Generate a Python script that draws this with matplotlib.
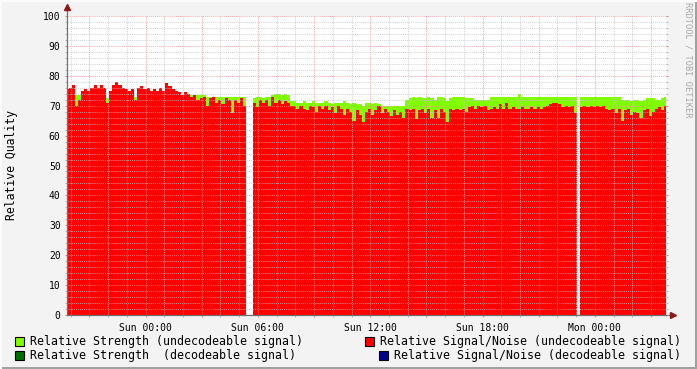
import datetime as dt
import numpy as np
import matplotlib
matplotlib.use("Agg")
import matplotlib.pyplot as plt
import matplotlib.dates as mdates
from matplotlib.ticker import MultipleLocator, FuncFormatter
from matplotlib.patches import Rectangle

nan = np.nan

# 10 minute samples, first one at Sat 19:48
t_start = dt.datetime(2024, 1, 6, 19, 48)
t_end = t_start + dt.timedelta(hours=32)
step_min = 10

# Relative Strength (undecodeable signal) - green area
strength = [
    74, 74, 74, 73.5, 73.5, 74, 74, 74, 74, 74,
    74, 74, 74, 72.5, 74, 74, 74, 74, 74, 74,
    74, 74, 73, 74, 74, 74, 74, 74, 74, 74,
    74, 74, 74, 74, 74, 74, 73.5, 73.5, 73.5, 73.5,
    73.5, 73.5, 73.5, 73.5, 73.5, 73, 73, 73, 73, 73,
    73, 73, 73, 73, 73, 73, 73, 73,
    nan, nan,
    72.5, 73, 73, 72.5, 73, 73, 73.5, 74, 74, 73.5,
    74, 73.5, 71.5, 71.5, 71, 71, 71.5, 71, 71, 71.5,
    71, 71, 71, 71.5, 71, 70.5, 71, 71, 71, 71.5,
    71, 70.5, 71, 70.5, 70.5, 70, 71, 71, 70.5, 71,
    70.5, 70, 70, 70, 70, 70, 70, 70, 70, 72,
    72.5, 73, 72.5, 73, 72.5, 72.5, 73, 72.5, 72, 73,
    73, 72.5, 71.5, 72.5, 73, 73, 73, 73, 72.5, 72.5,
    72.5, 72, 72, 72, 72, 72, 73, 73, 73, 73,
    73, 73, 73, 73, 73, 74, 73, 73, 73, 73,
    73, 73, 73, 73, 73, 73, 73, 73, 73, 73,
    73, 73, 73, 73,
    nan,
    73, 73, 73, 73, 73,
    73, 73, 73, 73, 73, 73, 73, 73, 72, 72,
    72, 71.5, 72, 72, 71.5, 72, 72.5, 72.5, 72.5, 72,
    72, 72.5, 73,
]

# Relative Signal/Noise (undecodeable signal) - red area
snr = [
    75.5, 76, 77, 70, 72, 75, 75.5, 75, 76, 77,
    76, 77, 76, 71, 75, 77, 78, 77, 76, 75.5,
    75, 75.5, 72, 76, 76.5, 75.5, 76, 75, 75.5, 75,
    76, 75, 77.5, 76.5, 75.5, 75, 74.5, 73.5, 74.5, 74,
    73, 73.5, 72, 72.5, 73, 70, 72.5, 73, 71, 72,
    70.5, 72.5, 72, 67.5, 72, 71, 72.5, 70,
    nan, nan,
    71, 69.5, 72, 71, 72, 70, 73, 71, 72, 70.5,
    71.5, 71, 70, 70, 69, 70, 69, 68.5, 70, 69.5,
    68, 70, 69, 70, 68.5, 69.5, 67.5, 70, 69, 67,
    69, 68, 65, 68.5, 67, 64.5, 68, 69, 67, 68.5,
    70, 67.5, 69, 68, 66.5, 68.5, 67, 68, 66, 69,
    68.5, 69, 65.5, 68.5, 69, 67.5, 69, 66, 68.5, 66,
    69, 68, 64.5, 69, 68.5, 69, 68.5, 69, 68, 69.5,
    70, 69, 70, 69.5, 70, 68.5, 69, 69.5, 69, 70.5,
    69, 71, 69, 69.5, 69, 69, 69.5, 69, 69, 69.5,
    69, 69.5, 69, 69.5, 70, 70.5, 71, 71, 70.5, 69.5,
    70, 69.5, 70, 67.5,
    nan,
    69.5, 70, 69.5, 70, 69.5,
    70, 69.5, 70, 69, 68.5, 69, 67.5, 69, 65, 68.5,
    69, 67, 68, 67.5, 66, 68.5, 69, 66.5, 68, 69,
    69.5, 68.5, 70,
]

legend_labels = [
    "Relative Strength (undecodeable signal)",
    "Relative Strength  (decodeable signal)",
    "Relative Signal/Noise (undecodeable signal)",
    "Relative Signal/Noise (decodeable signal)",
]
legend_colors = ["#80FF00", "#007000", "#FF0000", "#000090"]

times = [t_start + dt.timedelta(minutes=step_min * i) for i in range(len(snr))]
tnum = mdates.date2num(times)
width = step_min / 1440.0

W, H = 697, 369
fig = plt.figure(figsize=(W / 100, H / 100), dpi=100)
fig.patch.set_facecolor("#F3F3F3")

ax = fig.add_axes([67 / W, 54 / H, 599 / W, 299 / H])
ax.set_facecolor("white")

ax.bar(tnum, strength, width=width, color=legend_colors[0], linewidth=0,
       antialiased=False, zorder=1)
ax.bar(tnum, snr, width=width, color=legend_colors[2], linewidth=0,
       antialiased=False, zorder=1.1)

ax.set_xlim(mdates.date2num(t_start), mdates.date2num(t_end))
ax.set_ylim(0, 100)
ax.set_axisbelow(False)

# grid
ax.yaxis.set_major_locator(MultipleLocator(10))
ax.yaxis.set_minor_locator(MultipleLocator(2))
ax.xaxis.set_major_locator(mdates.HourLocator(byhour=range(0, 24, 3)))
ax.xaxis.set_minor_locator(mdates.HourLocator())


def fmt_time(x, pos):
    d = mdates.num2date(x)
    if d.hour % 6 == 0 and d.minute == 0:
        return d.strftime("%a %H:%M")
    return ""


ax.xaxis.set_major_formatter(FuncFormatter(fmt_time))

ax.grid(which="minor", color="#C4C4C4", linestyle=(0, (1, 1)), linewidth=0.75, alpha=0.7)
ax.grid(which="major", color="#F09090", linestyle=(0, (1, 1)), linewidth=0.75, alpha=0.7)

mono = "DejaVu Sans Mono"
ax.tick_params(axis="both", which="both", direction="out", length=1.6, width=0.7)
ax.tick_params(axis="both", which="minor", color="#B8B8B8")
ax.tick_params(axis="both", which="major", color="#E08080")
ax.tick_params(axis="y", which="both", right=True)
ax.tick_params(axis="x", which="major", labelsize=7, pad=4)
ax.tick_params(axis="y", which="major", labelsize=7, pad=3)
for lab in ax.get_xticklabels() + ax.get_yticklabels():
    lab.set_family(mono)

for s in ["top", "right"]:
    ax.spines[s].set_visible(False)
for s in ["left", "bottom"]:
    ax.spines[s].set_color("#707070")
    ax.spines[s].set_linewidth(0.9)
    ax.spines[s].set_zorder(5)

# axis arrows
ax.plot([0, 0], [1, 1.027], transform=ax.transAxes, color="#707070", lw=0.9, clip_on=False)
ax.plot([1, 1.01], [0, 0], transform=ax.transAxes, color="#707070", lw=0.9, clip_on=False)
ax.plot([0], [1.03], transform=ax.transAxes, marker="^", color="#8B1A1A", ms=4.5, clip_on=False)
ax.plot([1.011], [0], transform=ax.transAxes, marker=">", color="#8B1A1A", ms=4.5, clip_on=False)

ax.set_ylabel("Relative Quality", family=mono, fontsize=8.3)
ax.yaxis.set_label_coords(-49 / 599, 0.5)

# watermark
fig.text(688 / W, 1 - 60 / H, "RRDTOOL / TOBI OETIKER", rotation=-90, family=mono,
         fontsize=6.2, color="#A8A8A8", ha="center", va="center")

# legend
leg_pos = [(15, 30, 341), (15, 30, 355), (365, 380, 341), (379, 394, 355)]
for (bx, tx, ty), lab, col in zip(leg_pos, legend_labels, legend_colors):
    fig.patches.append(Rectangle((bx / W, 1 - (ty + 5) / H), 9 / W, 9 / H,
                                 facecolor=col, edgecolor="black", linewidth=0.8,
                                 transform=fig.transFigure, figure=fig))
    fig.text(tx / W, 1 - ty / H, lab, family=mono, fontsize=8.35, ha="left", va="center")

# 3d frame
fig.patches.append(Rectangle((0, 0), 1, 2.5 / H, facecolor="#A0A0A0", linewidth=0,
                             transform=fig.transFigure, figure=fig))
fig.patches.append(Rectangle((1 - 2.5 / W, 0), 2.5 / W, 1, facecolor="#A0A0A0", linewidth=0,
                             transform=fig.transFigure, figure=fig))
fig.patches.append(Rectangle((0, 1 - 2 / H), 1, 2 / H, facecolor="#FCFCFC", linewidth=0,
                             transform=fig.transFigure, figure=fig))
fig.patches.append(Rectangle((0, 0), 2 / W, 1, facecolor="#FCFCFC", linewidth=0,
                             transform=fig.transFigure, figure=fig))

fig.savefig("out.png", dpi=100, facecolor=fig.get_facecolor())
